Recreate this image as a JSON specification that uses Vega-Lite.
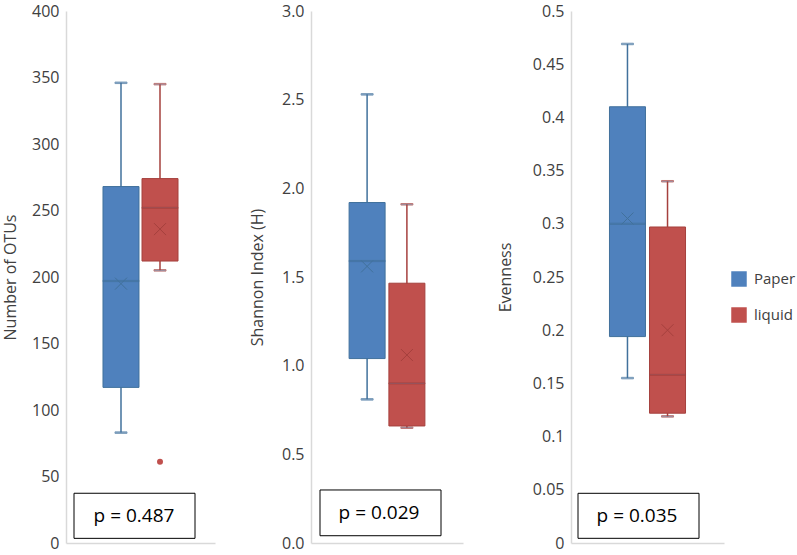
{
  "$schema": "https://vega.github.io/schema/vega-lite/v6.json",
  "background": "white",
  "padding": {"left": 2, "top": 3, "right": 0, "bottom": 4},
  "spacing": 34,
  "resolve": {"legend": {"fill": "independent"}},
  "datasets": {
    "stats": [
      {"metric": "otus", "group": "Paper", "lower": 83, "q1": 117, "median": 197, "q3": 268, "upper": 346, "mean": 195},
      {"metric": "otus", "group": "liquid", "lower": 205, "q1": 212, "median": 252, "q3": 274, "upper": 345, "mean": 236},
      {"metric": "shannon", "group": "Paper", "lower": 0.81, "q1": 1.04, "median": 1.59, "q3": 1.92, "upper": 2.53, "mean": 1.56},
      {"metric": "shannon", "group": "liquid", "lower": 0.65, "q1": 0.66, "median": 0.9, "q3": 1.465, "upper": 1.91, "mean": 1.06},
      {"metric": "even", "group": "Paper", "lower": 0.155, "q1": 0.194, "median": 0.3, "q3": 0.41, "upper": 0.469, "mean": 0.305},
      {"metric": "even", "group": "liquid", "lower": 0.119, "q1": 0.122, "median": 0.158, "q3": 0.297, "upper": 0.34, "mean": 0.2}
    ],
    "outliers": [
      {"metric": "otus", "group": "liquid", "value": 61}
    ],
    "pvals": [
      {"metric": "otus", "label": "p = 0.487"},
      {"metric": "shannon", "label": "p = 0.029"},
      {"metric": "even", "label": "p = 0.035"}
    ]
  },
  "hconcat": [
    {
      "width": 149,
      "height": 532,
      "encoding": {
        "x": {"field": "group", "type": "nominal", "sort": ["Paper", "liquid"],
          "scale": {"domain": ["Paper", "liquid"], "paddingInner": 0.08, "paddingOuter": 0.95},
          "axis": {"labels": false, "ticks": false, "title": null, "domain": true}}
      },
      "layer": [
        {
          "data": {"name": "stats"},
          "transform": [{"filter": "datum.metric === 'otus'"}],
          "layer": [
            {"mark": {"type": "rule", "strokeWidth": 1.5},
              "encoding": {
                "y": {"field": "lower", "type": "quantitative", "scale": {"domain": [0, 400], "nice": false},
                  "axis": {"title": "Number of OTUs", "titlePadding": 13, "values": [0, 50, 100, 150, 200, 250, 300, 350, 400], "format": "d"}},
                "y2": {"field": "upper"},
                "stroke": {"field": "group", "type": "nominal", "scale": {"domain": ["Paper", "liquid"], "range": ["#41719C", "#A5403D"]}, "legend": null}
              }},
            {"mark": {"type": "bar", "size": 36},
              "encoding": {
                "y": {"field": "q1", "type": "quantitative"},
                "y2": {"field": "q3"},
                "fill": {"field": "group", "type": "nominal", "scale": {"domain": ["Paper", "liquid"], "range": ["#4F81BD", "#C0504D"]}, "legend": null}
              }},
            {"mark": {"type": "bar", "size": 36, "filled": false, "strokeWidth": 1},
              "encoding": {
                "y": {"field": "q1", "type": "quantitative"},
                "y2": {"field": "q3"},
                "stroke": {"field": "group", "type": "nominal", "legend": null}
              }},
            {"mark": {"type": "tick", "size": 36, "thickness": 1.2},
              "encoding": {"y": {"field": "median", "type": "quantitative"}, "stroke": {"field": "group", "type": "nominal", "legend": null}}},
            {"mark": {"type": "tick", "size": 12, "thickness": 1.5},
              "encoding": {"y": {"field": "upper", "type": "quantitative"}, "stroke": {"field": "group", "type": "nominal", "legend": null}}},
            {"mark": {"type": "tick", "size": 12, "thickness": 1.5},
              "encoding": {"y": {"field": "lower", "type": "quantitative"}, "stroke": {"field": "group", "type": "nominal", "legend": null}}},
            {"mark": {"type": "point", "shape": "M-1,-1L1,1M-1,1L1,-1", "size": 144, "filled": false, "strokeWidth": 1, "opacity": 1},
              "encoding": {"y": {"field": "mean", "type": "quantitative"}, "stroke": {"field": "group", "type": "nominal", "legend": null}}}
          ]
        },
        {
          "data": {"name": "outliers"},
          "transform": [{"filter": "datum.metric === 'otus'"}],
          "mark": {"type": "point", "shape": "circle", "filled": true, "size": 36, "opacity": 1},
          "encoding": {"y": {"field": "value", "type": "quantitative"}, "fill": {"field": "group", "type": "nominal", "legend": null}}
        },
        {
          "data": {"name": "pvals"},
          "transform": [{"filter": "datum.metric === 'otus'"}],
          "mark": {"type": "rect", "fill": "white", "stroke": "black", "strokeWidth": 1},
          "encoding": {"x": {"value": 8}, "x2": {"value": 129}, "y": {"datum": 3.5, "type": "quantitative"}, "y2": {"datum": 37.4}}
        },
        {
          "data": {"name": "pvals"},
          "transform": [{"filter": "datum.metric === 'otus'"}],
          "mark": {"type": "text", "font": "Open Sans", "fontSize": 19, "color": "black", "baseline": "middle", "align": "center"},
          "encoding": {"x": {"value": 68}, "y": {"datum": 20.4, "type": "quantitative"}, "text": {"field": "label"}}
        }
      ]
    },
    {
      "width": 152,
      "height": 532,
      "encoding": {
        "x": {"field": "group", "type": "nominal", "sort": ["Paper", "liquid"],
          "scale": {"domain": ["Paper", "liquid"], "paddingInner": 0.08, "paddingOuter": 0.95},
          "axis": {"labels": false, "ticks": false, "title": null, "domain": true}}
      },
      "layer": [
        {
          "data": {"name": "stats"},
          "transform": [{"filter": "datum.metric === 'shannon'"}],
          "layer": [
            {"mark": {"type": "rule", "strokeWidth": 1.5},
              "encoding": {
                "y": {"field": "lower", "type": "quantitative", "scale": {"domain": [0, 3], "nice": false},
                  "axis": {"title": "Shannon Index (H)", "values": [0, 0.5, 1, 1.5, 2, 2.5, 3], "format": ".1f"}},
                "y2": {"field": "upper"},
                "stroke": {"field": "group", "type": "nominal", "scale": {"domain": ["Paper", "liquid"], "range": ["#41719C", "#A5403D"]}, "legend": null}
              }},
            {"mark": {"type": "bar", "size": 36},
              "encoding": {
                "y": {"field": "q1", "type": "quantitative"},
                "y2": {"field": "q3"},
                "fill": {"field": "group", "type": "nominal", "scale": {"domain": ["Paper", "liquid"], "range": ["#4F81BD", "#C0504D"]}, "legend": null}
              }},
            {"mark": {"type": "bar", "size": 36, "filled": false, "strokeWidth": 1},
              "encoding": {
                "y": {"field": "q1", "type": "quantitative"},
                "y2": {"field": "q3"},
                "stroke": {"field": "group", "type": "nominal", "legend": null}
              }},
            {"mark": {"type": "tick", "size": 36, "thickness": 1.2},
              "encoding": {"y": {"field": "median", "type": "quantitative"}, "stroke": {"field": "group", "type": "nominal", "legend": null}}},
            {"mark": {"type": "tick", "size": 12, "thickness": 1.5},
              "encoding": {"y": {"field": "upper", "type": "quantitative"}, "stroke": {"field": "group", "type": "nominal", "legend": null}}},
            {"mark": {"type": "tick", "size": 12, "thickness": 1.5},
              "encoding": {"y": {"field": "lower", "type": "quantitative"}, "stroke": {"field": "group", "type": "nominal", "legend": null}}},
            {"mark": {"type": "point", "shape": "M-1,-1L1,1M-1,1L1,-1", "size": 144, "filled": false, "strokeWidth": 1, "opacity": 1},
              "encoding": {"y": {"field": "mean", "type": "quantitative"}, "stroke": {"field": "group", "type": "nominal", "legend": null}}}
          ]
        },
        {
          "data": {"name": "pvals"},
          "transform": [{"filter": "datum.metric === 'shannon'"}],
          "mark": {"type": "rect", "fill": "white", "stroke": "black", "strokeWidth": 1},
          "encoding": {"x": {"value": 9}, "x2": {"value": 130}, "y": {"datum": 0.041, "type": "quantitative"}, "y2": {"datum": 0.299}}
        },
        {
          "data": {"name": "pvals"},
          "transform": [{"filter": "datum.metric === 'shannon'"}],
          "mark": {"type": "text", "font": "Open Sans", "fontSize": 19, "color": "black", "baseline": "middle", "align": "center"},
          "encoding": {"x": {"value": 68}, "y": {"datum": 0.17, "type": "quantitative"}, "text": {"field": "label"}}
        }
      ]
    },
    {
      "width": 153,
      "height": 532,
      "encoding": {
        "x": {"field": "group", "type": "nominal", "sort": ["Paper", "liquid"],
          "scale": {"domain": ["Paper", "liquid"], "paddingInner": 0.08, "paddingOuter": 0.95},
          "axis": {"labels": false, "ticks": false, "title": null, "domain": true}}
      },
      "layer": [
        {
          "data": {"name": "stats"},
          "transform": [{"filter": "datum.metric === 'even'"}],
          "layer": [
            {"mark": {"type": "rule", "strokeWidth": 1.5},
              "encoding": {
                "y": {"field": "lower", "type": "quantitative", "scale": {"domain": [0, 0.5], "nice": false},
                  "axis": {"title": "Evenness", "titlePadding": 19, "values": [0, 0.05, 0.1, 0.15, 0.2, 0.25, 0.3, 0.35, 0.4, 0.45, 0.5], "format": ".2~f"}},
                "y2": {"field": "upper"},
                "stroke": {"field": "group", "type": "nominal", "scale": {"domain": ["Paper", "liquid"], "range": ["#41719C", "#A5403D"]}, "legend": null}
              }},
            {"mark": {"type": "bar", "size": 36},
              "encoding": {
                "y": {"field": "q1", "type": "quantitative"},
                "y2": {"field": "q3"},
                "fill": {"field": "group", "type": "nominal", "scale": {"domain": ["Paper", "liquid"], "range": ["#4F81BD", "#C0504D"]},
                  "legend": {"title": null, "orient": "none", "legendX": 160, "legendY": 260, "symbolType": "square", "symbolSize": 240, "symbolStrokeWidth": 0, "labelFont": "Open Sans", "labelFontSize": 15, "labelColor": "#404040", "rowPadding": 20, "labelOffset": 7}}
              }},
            {"mark": {"type": "bar", "size": 36, "filled": false, "strokeWidth": 1},
              "encoding": {
                "y": {"field": "q1", "type": "quantitative"},
                "y2": {"field": "q3"},
                "stroke": {"field": "group", "type": "nominal", "legend": null}
              }},
            {"mark": {"type": "tick", "size": 36, "thickness": 1.2},
              "encoding": {"y": {"field": "median", "type": "quantitative"}, "stroke": {"field": "group", "type": "nominal", "legend": null}}},
            {"mark": {"type": "tick", "size": 12, "thickness": 1.5},
              "encoding": {"y": {"field": "upper", "type": "quantitative"}, "stroke": {"field": "group", "type": "nominal", "legend": null}}},
            {"mark": {"type": "tick", "size": 12, "thickness": 1.5},
              "encoding": {"y": {"field": "lower", "type": "quantitative"}, "stroke": {"field": "group", "type": "nominal", "legend": null}}},
            {"mark": {"type": "point", "shape": "M-1,-1L1,1M-1,1L1,-1", "size": 144, "filled": false, "strokeWidth": 1, "opacity": 1},
              "encoding": {"y": {"field": "mean", "type": "quantitative"}, "stroke": {"field": "group", "type": "nominal", "legend": null}}}
          ]
        },
        {
          "data": {"name": "pvals"},
          "transform": [{"filter": "datum.metric === 'even'"}],
          "mark": {"type": "rect", "fill": "white", "stroke": "black", "strokeWidth": 1},
          "encoding": {"x": {"value": 7}, "x2": {"value": 128}, "y": {"datum": 0.0044, "type": "quantitative"}, "y2": {"datum": 0.0467}}
        },
        {
          "data": {"name": "pvals"},
          "transform": [{"filter": "datum.metric === 'even'"}],
          "mark": {"type": "text", "font": "Open Sans", "fontSize": 19, "color": "black", "baseline": "middle", "align": "center"},
          "encoding": {"x": {"value": 66}, "y": {"datum": 0.0256, "type": "quantitative"}, "text": {"field": "label"}}
        }
      ]
    }
  ],
  "config": {
    "view": {"stroke": null},
    "axis": {
      "labelFont": "Open Sans", "labelFontSize": 16, "labelColor": "#404040",
      "titleFont": "Open Sans", "titleFontSize": 16, "titleFontWeight": "normal", "titleColor": "#404040",
      "domainColor": "#D9D9D9", "domainWidth": 1.5, "grid": false, "ticks": false,
      "labelPadding": 7, "titlePadding": 16
    }
  }
}
